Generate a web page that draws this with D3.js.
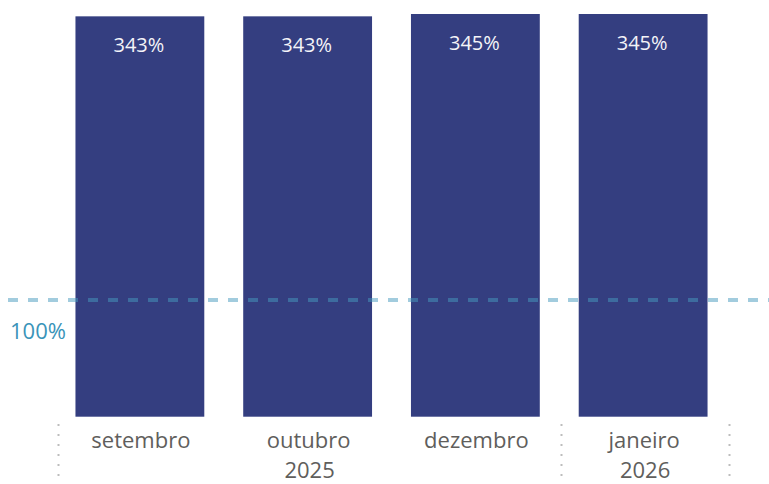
<!DOCTYPE html>
<html><head><meta charset="utf-8">
<script src="https://cdn.jsdelivr.net/npm/d3@7"></script>
<style>body{margin:0;background:#fff}svg{display:block}text{font-family:"Open Sans",sans-serif}</style>
</head><body>
<script>
const categories = ["setembro","outubro","dezembro","janeiro"];
const values = [343,343,345,345];
const valueLabels = ["343%","343%","345%","345%"];
const years = [{label:"2025", from:0, to:2},{label:"2026", from:3, to:3}];
const targetValue = 100;
const targetLabel = "100%";

const W = 769, H = 484;
const svg = d3.select("body").append("svg").attr("width",W).attr("height",H);

const x = d3.scaleBand().domain(categories).range([56,727]).paddingInner(0.232).paddingOuter(0.116);
const y = d3.scaleLinear().domain([0, d3.max(values)]).range([416.7, 14]);

const data = categories.map((c,i)=>({c, v:values[i], l:valueLabels[i]}));

svg.selectAll("rect.bar").data(data).join("rect").attr("class","bar")
  .attr("x",d=>x(d.c)).attr("width",x.bandwidth())
  .attr("y",d=>y(d.v)).attr("height",d=>y(0)-y(d.v))
  .attr("fill","#343e80");

svg.selectAll("text.val").data(data).join("text").attr("class","val")
  .attr("x",d=>x(d.c)+x.bandwidth()/2-1).attr("y",d=>y(d.v)+36)
  .attr("text-anchor","middle").attr("fill","#f4f4f8").attr("font-size",20)
  .text(d=>d.l);

// target line
svg.append("line").attr("x1",8).attr("x2",W).attr("y1",y(targetValue)).attr("y2",y(targetValue))
  .attr("stroke","rgb(69,154,190)").attr("stroke-opacity",0.5).attr("stroke-width",4)
  .attr("stroke-dasharray","10,10");
svg.append("text").attr("x",10).attr("y",y(targetValue)+39).attr("fill","#3a94b9")
  .attr("font-size",22).text(targetLabel);

// category labels
svg.selectAll("text.cat").data(categories).join("text").attr("class","cat")
  .attr("x",d=>x(d)+x.bandwidth()/2+1).attr("y",448)
  .attr("text-anchor","middle").attr("fill","#605e5c").attr("font-size",22).text(d=>d);

// year groups
const gap = x.step()*x.paddingInner()/2;
const bounds = [];
years.forEach(g=>{
  const x0 = x(categories[g.from]) - gap + 2;
  const x1 = x(categories[g.to]) + x.bandwidth() + gap + 2;
  bounds.push(x0, x1);
  svg.append("text").attr("x",(x0+x1)/2).attr("y",478).attr("text-anchor","middle")
    .attr("fill","#605e5c").attr("font-size",22).text(g.label);
});
const uniq = Array.from(new Set(bounds.map(b=>Math.round(b))));
svg.selectAll("line.sep").data(uniq).join("line").attr("class","sep")
  .attr("x1",d=>d+0.5).attr("x2",d=>d+0.5).attr("y1",424).attr("y2",476)
  .attr("stroke","#bdbdbd").attr("stroke-width",2).attr("stroke-dasharray","2,8");
</script>
</body></html>
